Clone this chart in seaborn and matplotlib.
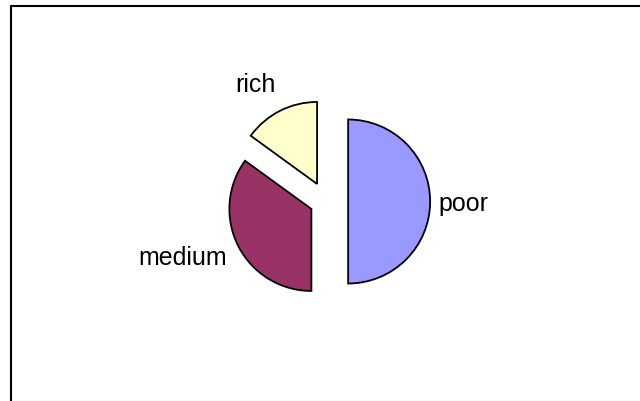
import matplotlib
matplotlib.use("Agg")
import matplotlib.pyplot as plt
import seaborn as sns
from matplotlib.patches import Rectangle
from matplotlib.lines import Line2D

# ---- data ----
categories = ["poor", "medium", "rich"]
shares = [50, 35, 15]
colors = ["#9999FF", "#993366", "#FFFFCC"]
explode = [0.27, 0.20, 0.24]

sns.set_theme(style="white")
plt.rcParams['font.family'] = ['Liberation Sans', 'DejaVu Sans']

W, H, DPI = 640, 401, 100
fig = plt.figure(figsize=(W / DPI, H / DPI), dpi=DPI)
fig.patch.set_facecolor("white")

ax = fig.add_axes([0, 0, 1, 1])
wedges, _ = ax.pie(shares, colors=colors, explode=explode, startangle=90,
                   counterclock=False, radius=1.0,
                   wedgeprops=dict(edgecolor="black", linewidth=1.3))

# pixel-based layout: pie centre at (326, 201.5) px, radius 82 px
cx, cy, r = 326, 201.5, 82
ax.set_xlim(-cx / r, (W - cx) / r)
ax.set_ylim((cy - H) / r, cy / r)
ax.set_aspect('auto')
ax.axis('off')

# labels
label_pos = {
    "poor": (1.366, -0.116, "left"),
    "medium": (-1.207, -0.774, "right"),
    "rich": (-0.866, 1.335, "center"),
}
for cat in categories:
    x, y, ha = label_pos[cat]
    ax.text(x, y, cat, ha=ha, va="baseline", fontsize=18, color="black")

# outer frame (left and top visible, extending past the image edges)
fig.add_artist(Rectangle((11 / W, -0.05), 1.2, 1 - 6 / H + 0.05,
                         transform=fig.transFigure, fill=False,
                         edgecolor="black", linewidth=1.5))
fig.add_artist(Line2D([12 / W, 1], [0.5 / H, 0.5 / H], transform=fig.transFigure,
                      color="#e6e6e6", linewidth=1))

fig.savefig("out.png", dpi=DPI)
